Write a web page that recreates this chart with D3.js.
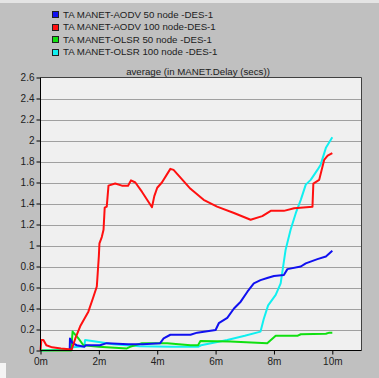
<!DOCTYPE html>
<html><head><meta charset="utf-8">
<script src="https://cdn.jsdelivr.net/npm/d3@7"></script>
<style>html,body{margin:0;padding:0;background:#c0c0c0;}svg{display:block;}</style>
</head><body>
<script>
const seriesNames = ["TA MANET-AODV 50 node -DES-1","TA MANET-AODV 100 node-DES-1","TA MANET-OLSR 50 node -DES-1","TA MANET-OLSR 100 node -DES-1"];
const seriesColors = ["#1010f0","#ff1010","#10e010","#10f0f0"];
const xTicks = [0,2,4,6,8,10];
const yTicks = [0,0.2,0.4,0.6,0.8,1,1.2,1.4,1.6,1.8,2,2.2,2.4,2.6];
const title = "average (in MANET.Delay (secs))";

// [minutes, seconds]
const aodv50 = [[1.0,0],[1.01,0.115],[1.1,0.07],[1.24,0.05],[1.5,0.035],[1.55,0.05],[2.04,0.05],[2.27,0.07],[3.0,0.06],[3.5,0.06],[4.1,0.07],[4.22,0.115],[4.45,0.15],[5.14,0.15],[5.37,0.17],[6.0,0.195],[6.11,0.26],[6.4,0.31],[6.63,0.4],[6.86,0.465],[7.09,0.56],[7.31,0.64],[7.54,0.67],[7.77,0.69],[8.0,0.71],[8.34,0.72],[8.46,0.775],[8.92,0.8],[9.09,0.83],[9.49,0.87],[9.78,0.895],[10.0,0.95]];
const aodv100 = [[0,0],[0.03,0.1],[0.1,0.1],[0.2,0.05],[0.4,0.03],[0.7,0.02],[1.07,0.01],[1.2,0.12],[1.36,0.23],[1.64,0.37],[1.8,0.5],[1.93,0.61],[2.0,0.9],[2.02,1.02],[2.1,1.08],[2.16,1.15],[2.2,1.36],[2.27,1.37],[2.33,1.57],[2.56,1.59],[2.79,1.57],[3.0,1.57],[3.1,1.62],[3.25,1.6],[3.48,1.51],[3.82,1.365],[3.9,1.47],[4.0,1.55],[4.16,1.6],[4.45,1.73],[4.56,1.72],[5.14,1.54],[5.59,1.435],[6.05,1.37],[6.63,1.31],[7.2,1.245],[7.6,1.28],[7.89,1.33],[8.34,1.33],[8.69,1.355],[9.32,1.37],[9.35,1.59],[9.55,1.625],[9.72,1.815],[9.84,1.855],[10.0,1.88]];
const olsr50 = [[0,0],[1.05,0],[1.1,0.18],[1.3,0.115],[1.47,0.05],[2.0,0.035],[2.96,0.02],[3.07,0.035],[3.48,0.07],[4.34,0.07],[5.14,0.05],[5.4,0.05],[5.48,0.09],[6.5,0.085],[7.77,0.07],[8.06,0.14],[8.8,0.14],[8.92,0.155],[9.78,0.16],[9.9,0.17],[10.0,0.17]];
const olsr100 = [[0,0],[1.0,0.01],[1.1,0.03],[1.5,0.04],[1.53,0.1],[2.0,0.08],[2.5,0.06],[3.4,0.04],[4.5,0.035],[5.4,0.035],[5.5,0.05],[6.4,0.1],[7.0,0.14],[7.54,0.18],[7.65,0.3],[7.8,0.43],[8.06,0.53],[8.23,0.64],[8.4,0.96],[8.57,1.15],[8.75,1.31],[8.92,1.435],[9.09,1.58],[9.26,1.625],[9.49,1.72],[9.6,1.77],[9.78,1.93],[10.0,2.03]];

const W=379,H=378;
const svg=d3.select("body").append("svg").attr("width",W).attr("height",H);
svg.append("rect").attr("width",W).attr("height",H).attr("fill","#c0c0c0");
svg.append("rect").attr("width",W).attr("height",3).attr("fill","#e4e4e4");
svg.append("rect").attr("x",0).attr("y",363).attr("width",6).attr("height",15).attr("fill","#f4f4f4");

const L=40.5,R=361.5,T=77.5,B=350.5;
const x=d3.scaleLinear().domain([0,11]).range([L,R]);
const y=d3.scaleLinear().domain([0,2.6]).range([B,T]);
const font="Liberation Sans, Arial, sans-serif";
const fs=10;

svg.append("rect").attr("x",L).attr("y",T).attr("width",R-L).attr("height",B-T).attr("fill","#f0f0f0");
svg.append("g").selectAll("line").data(yTicks.filter(v=>v>0&&v<2.6)).join("line")
  .attr("x1",L).attr("x2",R).attr("y1",d=>Math.round(y(d))+0.5).attr("y2",d=>Math.round(y(d))+0.5)
  .attr("stroke","#a0a0a0").attr("stroke-width",1);
svg.append("path").attr("d",`M${L},${T}H${R}V${B}`).attr("fill","none").attr("stroke","#404040");

const line=d3.line().x(d=>x(d[0])).y(d=>y(d[1]));
const data=[aodv50,aodv100,olsr50,olsr100];
const order=[3,2,0,1];
order.forEach(i=>{
  svg.append("path").datum(data[i]).attr("d",line).attr("fill","none")
    .attr("stroke",seriesColors[i]).attr("stroke-width",2).attr("stroke-linejoin","round");
});

const ya=svg.append("g").attr("transform",`translate(${L},0)`)
  .call(d3.axisLeft(y).tickValues(yTicks).tickSize(4).tickPadding(2).tickFormat(d=>d3.format("~g")(d)));
const xa=svg.append("g").attr("transform",`translate(0,${B})`)
  .call(d3.axisBottom(x).tickValues(xTicks).tickSize(4).tickPadding(3).tickFormat(d=>d+"m"));
[ya,xa].forEach(g=>{
  g.select(".domain").attr("stroke","#000");
  g.selectAll(".tick line").attr("stroke","#000");
  g.selectAll("text").attr("font-family",font).attr("font-size",fs).attr("fill","#202020");
});
ya.select(".domain").attr("d",`M0,${T}V${B}`);
xa.select(".domain").attr("d",`M${L},0H${R}`);

svg.append("text").attr("x",198).attr("y",75).attr("text-anchor","middle")
  .attr("font-family",font).attr("font-size",9.7).attr("fill","#202020").text(title);

const lg=svg.append("g");
seriesNames.forEach((n,i)=>{
  const cy=14+i*12.5;
  lg.append("rect").attr("x",52.5).attr("y",Math.round(cy-3)+0.5).attr("width",6).attr("height",6)
    .attr("fill",seriesColors[i]).attr("stroke","#202020");
  lg.append("text").attr("x",63).attr("y",cy+3.8).attr("font-family",font).attr("font-size",9.7)
    .attr("fill","#202020").text(n);
});
</script>
</body></html>
